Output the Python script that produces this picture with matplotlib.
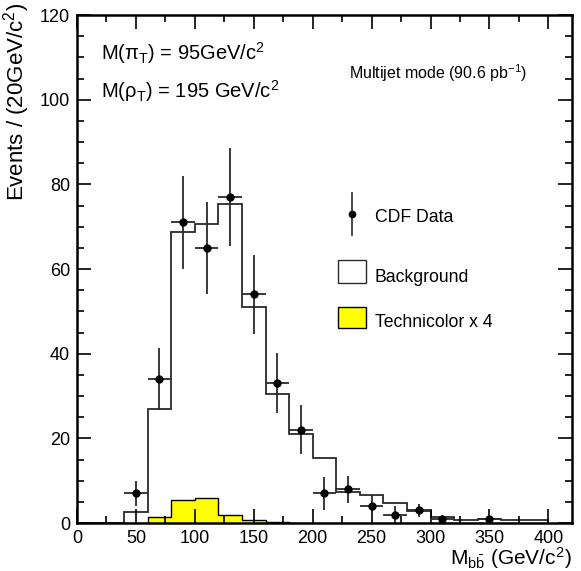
import numpy as np
import matplotlib
matplotlib.use('Agg')
import matplotlib.pyplot as plt
from matplotlib.patches import Rectangle
from matplotlib.ticker import MultipleLocator

plt.rcParams['font.family'] = ['Liberation Sans', 'DejaVu Sans']
plt.rcParams['mathtext.fontset'] = 'custom'
plt.rcParams['mathtext.rm'] = 'Liberation Sans'
plt.rcParams['mathtext.it'] = 'Liberation Sans:italic'
plt.rcParams['mathtext.bf'] = 'Liberation Sans:bold'

# bin edges (GeV/c^2), 20 GeV bins
edges = np.arange(0, 420, 20)

# background expectation per bin
background = [0, 0, 2.6, 27, 68.7, 70.7, 75.3, 51, 30.5, 21,
              15.4, 7.3, 6.6, 4.8, 2.9, 1.4, 0.6, 1.0, 0.7, 0.7]

# technicolor signal x 4 per bin
technicolor = [0, 0, 0, 1.4, 5.4, 6.0, 1.8, 0.7, 0.2, 0,
               0, 0, 0, 0, 0, 0, 0, 0, 0, 0]

# CDF data points (bin centres, counts, errors)
data_x = [50, 70, 90, 110, 130, 150, 170, 190, 210, 230, 250, 270, 290, 310, 350]
data_y = [7, 34, 71, 65, 77, 54, 33, 22, 7, 8, 4, 2, 3, 1, 1]
data_err = [3.0, 7.3, 11.0, 10.8, 11.5, 9.3, 7.1, 5.8, 3.9, 3.2, 2.6, 2.0, 1.6, 1.0, 1.0]

line_c = '#2a2a2a'

fig = plt.figure(figsize=(5.81, 5.71), dpi=100)
ax = fig.add_axes([0.1325, 0.084, 0.852, 0.8897])

ax.stairs(technicolor, edges, fill=True, facecolor='#ffff00',
          edgecolor='black', linewidth=1.0)
ax.stairs(background, edges, color=line_c, linewidth=1.3)

ax.errorbar(data_x, data_y, yerr=data_err, xerr=10, fmt='o',
            color='black', ecolor=line_c, elinewidth=1.3, ms=5, capsize=0)

ax.set_xlim(0, 420)
ax.set_ylim(0, 120)
ax.xaxis.set_major_locator(MultipleLocator(50))
ax.xaxis.set_minor_locator(MultipleLocator(25))
ax.yaxis.set_major_locator(MultipleLocator(20))
ax.yaxis.set_minor_locator(MultipleLocator(5))
ax.tick_params(which='both', direction='in', top=True, right=True,
               labelsize=13, width=1.2)
ax.tick_params(which='major', length=10)
ax.tick_params(which='minor', length=5)
ax.tick_params(axis='x', pad=5)
ax.tick_params(axis='y', pad=5)
for s in ax.spines.values():
    s.set_linewidth(1.8)

ax.set_xlabel(r'M$_{\mathrm{b\bar{b}}}$ (GeV/c$^2$)', fontsize=15, loc='right')
ax.set_ylabel(r'Events / (20GeV/c$^2$)', fontsize=16, loc='top')
ax.yaxis.set_label_coords(-0.09, 1.024)
ax.xaxis.set_label_coords(1.0, -0.044)

ax.text(0.048, 0.911, r'M($\mathrm{\pi}_\mathrm{T}$) = 95GeV/c$^2$',
        transform=ax.transAxes, fontsize=14.5, va='baseline')
ax.text(0.048, 0.837, r'M($\mathrm{\rho}_\mathrm{T}$) = 195 GeV/c$^2$',
        transform=ax.transAxes, fontsize=14.5, va='baseline')
ax.text(0.549, 0.886, r'Multijet mode (90.6 pb$^{-1}$)',
        transform=ax.transAxes, fontsize=11.5, va='center')

# legend, drawn by hand to follow the reference spacing
ax.plot([0.556, 0.556], [0.567, 0.650], color=line_c, lw=1.2,
        transform=ax.transAxes)
ax.plot([0.556], [0.608], 'o', color='black', ms=4.5, transform=ax.transAxes)
ax.add_patch(Rectangle((0.527, 0.472), 0.0566, 0.0453, transform=ax.transAxes,
                       facecolor='white', edgecolor=line_c, lw=1.0))
ax.add_patch(Rectangle((0.527, 0.384), 0.0566, 0.0413, transform=ax.transAxes,
                       facecolor='#ffff00', edgecolor='black', lw=1.0))
ax.text(0.602, 0.602, 'CDF Data', transform=ax.transAxes, fontsize=12.7, va='center')
ax.text(0.602, 0.484, 'Background', transform=ax.transAxes, fontsize=12.7, va='center')
ax.text(0.602, 0.394, 'Technicolor x 4', transform=ax.transAxes, fontsize=12.7, va='center')

fig.savefig('out.png', dpi=100)
